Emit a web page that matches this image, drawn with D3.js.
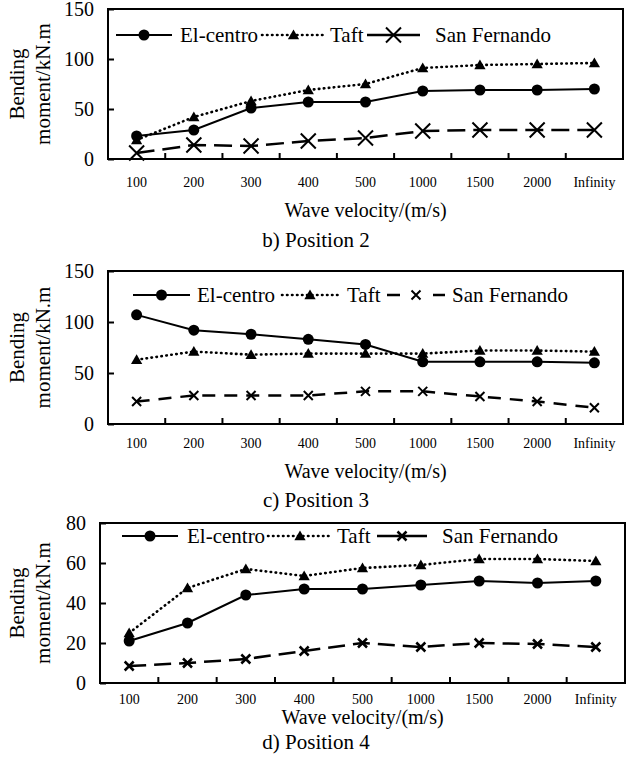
<!DOCTYPE html>
<html>
<head>
<meta charset="utf-8">
<script src="https://cdn.jsdelivr.net/npm/d3@7"></script>
<style>
body{margin:0;background:#fff}
svg{display:block}
</style>
</head>
<body>
<div id="chart"></div>
<script>
var categories = ["100","200","300","400","500","1000","1500","2000","Infinity"]

// b) Position 2
var yTicks2 = [0,50,100,150]
var elCentro2 = [23,29,51,57,57,68,69,69,70]
var taft2 = [19,42,58,69,75,91,94,95,96]
var sanFernando2 = [6,14,13,18,21,28,29,29,29]

// c) Position 3
var yTicks3 = [0,50,100,150]
var elCentro3 = [107,92,88,83,78,61,61,61,60]
var taft3 = [63,71,68,69,69,69,72,72,71]
var sanFernando3 = [22,28,28,28,32,32,27,22,16]

// d) Position 4
var yTicks4 = [0,20,40,60,80]
var elCentro4 = [21,30,44,47,47,49,51,50,51]
var taft4 = [25,47.5,57,53.5,57.5,59,62,62,61]
var sanFernando4 = [8.5,10,12,16,20,18,20,19.5,18]

var seriesNames = ["El-centro","Taft","San Fernando"]

var serif = "Liberation Serif"
var width = 626
var height = 767
var svg = d3.select("#chart").append("svg").attr("width",width).attr("height",height)
    .attr("font-family",serif)

var panels = [
    {top:9,bottom:159,left:108,right:623,ticks:yTicks2,data:[elCentro2,taft2,sanFernando2],
     xLab:182,title:210,sub:240,subText:"b) Position 2",
     leg:{y:35,l1:[116,172,180],l2:[262,325,330],l3:[367,420,435]},
     sf:{dash:"18,8",size:7.5,w:2}},
    {top:271,bottom:424,left:108,right:623,ticks:yTicks3,data:[elCentro3,taft3,sanFernando3],
     xLab:443,title:471,sub:500,subText:"c) Position 3",
     leg:{y:295,l1:[133,190,197],l2:[282,338,347],l3:[387,445,452]},
     sf:{dash:"13,9",size:4.5,w:2}},
    {top:523,bottom:683,left:100,right:625,ticks:yTicks4,data:[elCentro4,taft4,sanFernando4],
     xLab:699,title:717,sub:742,subText:"d) Position 4",
     leg:{y:536,l1:[122,178,187],l2:[268,332,337],l3:[377,427,442]},
     sf:{dash:"17,8",size:4.5,w:2.5}}
]

panels.forEach(drawPanel)

function xMark(s){
    return "M"+(-s)+","+(-s)+"L"+s+","+s+"M"+(-s)+","+s+"L"+s+","+(-s)
}

function label(g,txt,size){
    return g.append("text").attr("font-family",serif).attr("font-size",size).attr("fill","#000").text(txt)
}

function drawMarker(g,type,cx,cy,sf){
    if(type==0){
        g.append("circle").attr("cx",cx).attr("cy",cy).attr("r",5.5).attr("fill","#000")
    }else if(type==1){
        g.append("path").attr("d",d3.symbol(d3.symbolTriangle,55)())
        .attr("transform","translate("+cx+","+(cy+1)+")").attr("fill","#000")
    }else{
        g.append("path").attr("d",xMark(sf.size))
        .attr("transform","translate("+cx+","+cy+")")
        .attr("stroke","#000").attr("stroke-width",sf.w).attr("fill","none")
    }
}

function drawPanel(p){
    var g = svg.append("g")
    var x = d3.scaleBand().domain(categories).range([p.left,p.right]).padding(0)
    var yMax = p.ticks[p.ticks.length-1]
    var y = d3.scaleLinear().domain([0,yMax]).range([p.bottom,p.top])
    var cx = function(d,i){return x(categories[i])+x.bandwidth()/2}

    // y axis labels + inward ticks
    var ya = g.append("g").attr("transform","translate("+p.left+",0)")
    .call(d3.axisLeft(y).tickValues(p.ticks).tickSizeInner(-6).tickSizeOuter(0).tickPadding(14))
    ya.attr("font-family",serif).attr("font-size",20)
    ya.select(".domain").remove()
    ya.selectAll("line").attr("stroke","#000").attr("stroke-width",2)
    ya.selectAll("text").attr("font-family",serif).attr("font-size",20).attr("fill","#000")

    // x labels at band centers
    var xa = g.append("g").attr("transform","translate(0,"+p.bottom+")")
    .call(d3.axisBottom(x).tickSize(0).tickPadding(0))
    xa.attr("font-family",serif).attr("font-size",14)
    xa.select(".domain").remove()
    xa.selectAll("text").attr("y",p.xLab-p.bottom).attr("dy","0.35em")
    .attr("font-family",serif).attr("font-size",14).attr("fill","#000")

    // x tick marks at band boundaries, pointing up
    g.selectAll(".xtick").data(categories.slice(1)).enter().append("line")
    .attr("x1",function(d){return x(d)}).attr("x2",function(d){return x(d)})
    .attr("y1",p.bottom).attr("y2",p.bottom-6)
    .attr("stroke","#000").attr("stroke-width",2)

    // frame
    g.append("rect").attr("x",p.left).attr("y",p.top)
    .attr("width",p.right-p.left).attr("height",p.bottom-p.top)
    .attr("fill","none").attr("stroke","#000").attr("stroke-width",2)

    var line = d3.line().x(cx).y(function(d){return y(d)})
    var styles = [
        {dash:null,w:2,cap:"butt"},
        {dash:"0.5,4.5",w:2.6,cap:"round"},
        {dash:p.sf.dash,w:2.5,cap:"butt"}
    ]

    p.data.forEach(function(vals,k){
        var st = styles[k]
        g.append("path").datum(vals).attr("d",line)
        .attr("fill","none").attr("stroke","#000").attr("stroke-width",st.w)
        .attr("stroke-dasharray",st.dash).attr("stroke-linecap",st.cap)
    })
    p.data.forEach(function(vals,k){
        vals.forEach(function(v,i){
            drawMarker(g,k,cx(v,i),y(v),p.sf)
        })
    })

    // legend
    var legs = [p.leg.l1,p.leg.l2,p.leg.l3]
    legs.forEach(function(l,k){
        var st = styles[k]
        g.append("line").attr("x1",l[0]).attr("x2",l[1]).attr("y1",p.leg.y).attr("y2",p.leg.y)
        .attr("stroke","#000").attr("stroke-width",st.w)
        .attr("stroke-dasharray",k==2?(p.sf.dash=="13,9"?"13,33":null):st.dash).attr("stroke-linecap",st.cap)
        drawMarker(g,k,(l[0]+l[1])/2,p.leg.y,p.sf)
        label(g,seriesNames[k],21).attr("x",l[2]).attr("y",p.leg.y).attr("dy","0.35em")
    })

    // axis titles
    var my = (p.top+p.bottom)/2
    label(g,"Bending",21).attr("transform","translate(17,"+my+") rotate(-90)")
    .attr("text-anchor","middle").attr("dy","0.35em")
    label(g,"moment/kN.m",21).attr("transform","translate(43,"+my+") rotate(-90)")
    .attr("text-anchor","middle").attr("dy","0.35em")

    label(g,"Wave velocity/(m/s)",20).attr("x",(p.left+p.right)/2).attr("y",p.title).attr("dy","0.35em")
    .attr("text-anchor","middle")
    label(g,p.subText,21).attr("x",316).attr("y",p.sub).attr("dy","0.35em")
    .attr("text-anchor","middle")
}
</script>
</body>
</html>
